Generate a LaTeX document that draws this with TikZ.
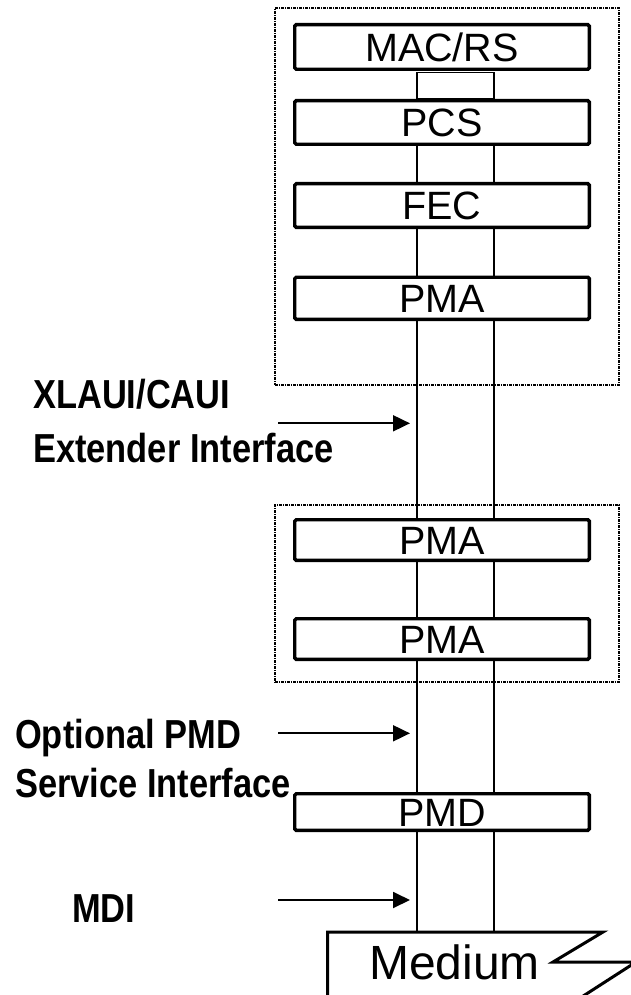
\documentclass[tikz,border=0pt]{standalone}
\usepackage{fontspec}
\setmainfont{Liberation Sans}
\newfontfamily\lblfont[FakeStretch=0.85]{Liberation Sans}
\usetikzlibrary{arrows.meta}
\begin{document}
\begin{tikzpicture}[x=1pt,y=-1pt,
  layer/.style={draw, line width=3.4pt, rounded corners=1.5pt, fill=white,
    minimum width=294.6pt, inner sep=0pt,
    font=\fontsize{39.5}{39.5}\selectfont, text height=28.5pt, text depth=0pt},
  grp/.style={draw, line width=2.2pt, dash pattern=on 3pt off 0.9pt on 1.2pt off 0.9pt,
    inner sep=0pt, minimum width=344pt},
  sig/.style={line width=1.7pt},
  iface/.style={line width=1.9pt, -{Triangle[length=17pt,width=16pt]}},
  lbl/.style={anchor=base west, inner sep=0pt,
    font=\fontsize{40.5}{40.5}\lblfont\bfseries},
  medline/.style={line width=3pt, line join=miter},
]
\useasboundingbox (0,0) rectangle (631,995);

% dotted grouping boxes
\node[grp, minimum height=377pt] (g1) at (447,196.5) {};
\node[grp, minimum height=177pt] (g2) at (447,593.5) {};

% layer boxes
\node[layer, minimum height=44.6pt] (mac)  at (442,47)     {MAC/RS};
\node[layer, minimum height=43.6pt] (pcs)  at (442,122.5)  {PCS};
\node[layer, minimum height=43.6pt] (fec)  at (442,205.5)  {FEC};
\node[layer, minimum height=42.1pt] (pma1) at (442,298.25) {PMA};
\node[layer, minimum height=40.6pt] (pma2) at (442,540)    {PMA};
\node[layer, minimum height=40.6pt] (pma3) at (442,639)    {PMA};
\node[layer, minimum height=36.6pt] (pmd)  at (442,812)    {PMD};

\foreach \n in {mac,pcs,fec,pma1,pma2,pma3,pmd}
  \draw[line width=2.6pt] ([xshift=-2pt,yshift=-1pt]\n.north east) -- ([xshift=-2pt,yshift=1pt]\n.south east);

% medium
\draw[medline] (327.5,1000) -- (327.5,932) -- (603,932) -- (553,962) -- (636,962) -- (577,1000);
\node[inner sep=0pt, font=\fontsize{48}{48}\selectfont, text height=34.5pt, text depth=0pt] (medium) at (454.5,962.5) {Medium};
\coordinate (medtop) at (442,932);

% signal lines
\coordinate (L) at (417.3,0);
\coordinate (R) at (493.8,0);
\draw[sig] ([yshift=-1.5pt]mac.south -| L) rectangle (pcs.north -| R);
\foreach \a/\b in {pcs/fec,fec/pma1,pma1/pma2,pma2/pma3,pma3/pmd}{
  \draw[sig] (\a.south -| L) -- (\b.north -| L);
  \draw[sig] (\a.south -| R) -- (\b.north -| R);
}
\draw[sig] (pmd.south -| L) -- (medtop -| L);
\draw[sig] (pmd.south -| R) -- (medtop -| R);

% interface labels
\node[lbl] (x1) at (33,408) {XLAUI/CAUI};
\node[lbl] (x2) at (33,462) {Extender Interface};
\node[lbl] (o1) at (15,748) {Optional PMD};
\node[lbl] (o2) at (15,797) {Service Interface};
\node[lbl] (mdi) at (72,922) {MDI};

\coordinate (a1s) at (278,423.3);
\coordinate (a1e) at (410,423.3);
\coordinate (a2s) at (278,733.3);
\coordinate (a2e) at (410,733.3);
\coordinate (a3s) at (278,900);
\coordinate (a3e) at (410,900);
\draw[iface] (a1s) -- (a1e);
\draw[iface] (a2s) -- (a2e);
\draw[iface] (a3s) -- (a3e);
\end{tikzpicture}
\end{document}
